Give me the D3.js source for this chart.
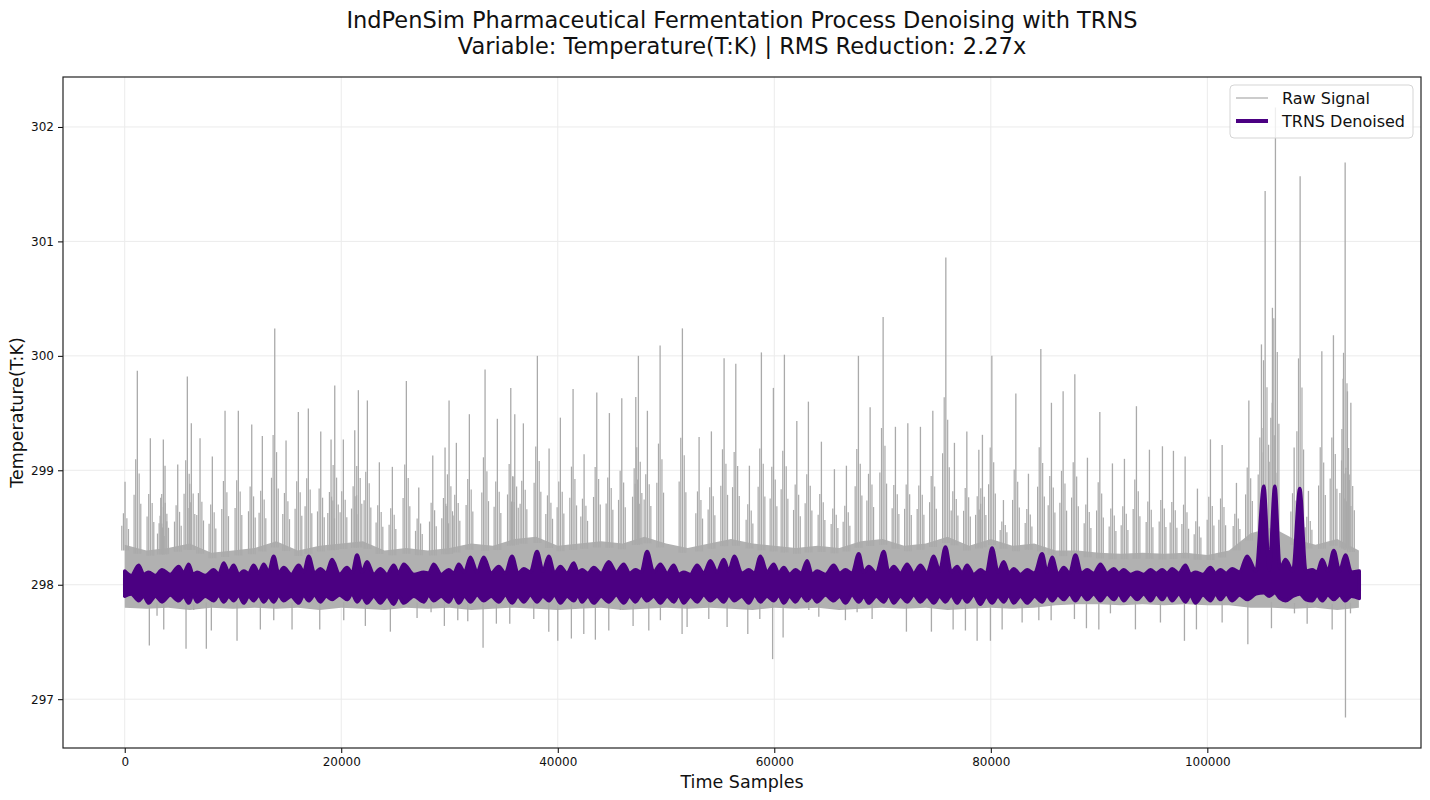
<!DOCTYPE html>
<html>
<head>
<meta charset="utf-8">
<script src="https://cdn.jsdelivr.net/npm/d3@7/dist/d3.min.js"></script>
<style>
  body { margin: 0; background: #fff; font-family: "DejaVu Sans", sans-serif; }
</style>
</head>
<body>
<div id="chart"></div>
<script>
// ---- data ----
const titleLines = [
    "IndPenSim Pharmaceutical Fermentation Process Denoising with TRNS",
    "Variable: Temperature(T:K) | RMS Reduction: 2.27x"
];
const xLabel = "Time Samples";
const yLabel = "Temperature(T:K)";
const legendLabels = ["Raw Signal", "TRNS Denoised"];
const xTicks = [0, 20000, 40000, 60000, 80000, 100000];
const yTicks = [297, 298, 299, 300, 301, 302];

// dense part of the raw signal (every 2000 samples)
const rawBandSample = d3.range(0, 114001, 2000);
const rawBandUpper = [298.35, 298.30, 298.32, 298.36, 298.28, 298.30, 298.32, 298.38, 298.30, 298.34,
    298.36, 298.38, 298.30, 298.32, 298.30, 298.32, 298.36, 298.34, 298.40, 298.42,
    298.34, 298.36, 298.38, 298.36, 298.42, 298.36, 298.32, 298.36, 298.40, 298.36,
    298.34, 298.32, 298.34, 298.32, 298.38, 298.40, 298.34, 298.36, 298.42, 298.34,
    298.40, 298.34, 298.36, 298.30, 298.30, 298.28, 298.27, 298.28, 298.27, 298.28,
    298.26, 298.30, 298.45, 298.50, 298.40, 298.35, 298.40, 298.30];
const rawBandLower = [297.80, 297.79, 297.80, 297.78, 297.80, 297.79, 297.80, 297.79, 297.80, 297.78,
    297.80, 297.79, 297.78, 297.80, 297.79, 297.80, 297.78, 297.79, 297.80, 297.79,
    297.78, 297.79, 297.80, 297.78, 297.79, 297.80, 297.79, 297.80, 297.79, 297.78,
    297.80, 297.79, 297.80, 297.78, 297.79, 297.80, 297.79, 297.80, 297.78, 297.79,
    297.80, 297.79, 297.80, 297.82, 297.83, 297.83, 297.82, 297.83, 297.82, 297.83,
    297.82, 297.82, 297.80, 297.80, 297.79, 297.80, 297.78, 297.80];

// upward spikes of the raw signal: sample index and peak value
const upSpikeSample = [28, 1164, 2365, 3326, 3566, 3723, 4896, 5783, 6152, 6956,
    8092, 9266, 10494, 11732, 12711, 13857, 14901, 16037, 16961, 18107,
    19058, 19400, 20194, 21247, 21580, 22412, 23520, 24721, 26014, 27160,
    28453, 29589, 29958, 30633, 31834, 33284, 34421, 35659, 36028, 36823,
    38116, 39197, 40241, 41414, 42431, 43604, 44768, 45913, 47207, 47447,
    48278, 49452, 51512, 53054, 54190, 55363, 56444, 57700, 58809, 59918,
    60934, 62080, 63151, 64352, 65553, 66662, 67771, 68852, 70053, 71189,
    72334, 73499, 74644, 75845, 76640, 77785, 78894, 79226, 80095, 81166,
    82312, 83476, 84621, 85600, 86680, 87761, 88925, 90070, 91234, 92343,
    93451, 94652, 95853, 96869, 97950, 99086, 100287, 101368, 102689, 103835,
    104999, 105340, 106014, 106291, 108018, 108572, 109339, 110577, 111649, 112545,
    112730, 112943, 113257];
const upSpikeValue = [298.90, 299.87, 299.28, 298.76, 299.27, 299.04, 299.05, 299.82, 299.41, 299.28,
    299.12, 299.52, 299.52, 299.40, 299.30, 300.24, 299.26, 299.51, 299.54, 299.34,
    299.27, 299.74, 299.27, 299.35, 299.70, 299.61, 299.07, 299.03, 299.78, 298.85,
    299.13, 299.20, 299.61, 299.24, 299.49, 299.88, 299.45, 299.72, 299.49, 299.41,
    300.00, 299.19, 299.46, 299.71, 299.14, 299.68, 299.50, 299.63, 299.64, 300.00,
    299.52, 300.09, 300.24, 299.29, 299.34, 299.98, 299.93, 299.04, 300.03, 299.72,
    300.01, 299.43, 299.60, 299.25, 299.01, 299.04, 300.00, 299.55, 300.34, 299.38,
    299.41, 299.38, 299.52, 300.86, 299.24, 299.34, 299.18, 299.31, 300.00, 298.74,
    299.67, 298.97, 300.06, 299.59, 299.69, 299.84, 299.11, 299.51, 299.06, 299.10,
    299.56, 299.18, 299.21, 299.17, 299.12, 298.84, 299.27, 299.22, 298.89, 299.61,
    300.10, 301.44, 300.42, 302.17, 299.20, 301.57, 298.82, 300.04, 300.18, 299.80,
    301.69, 299.69, 299.59];

// downward spikes of the raw signal
const downSpikeSample = [2273, 2984, 3603, 5663, 6374, 7538, 8000, 10374, 12527, 13765,
    15455, 18014, 20231, 22227, 24536, 27003, 28296, 29525, 30763, 31687,
    33100, 34329, 35567, 37784, 39169, 40001, 41257, 42403, 43474, 44712,
    45784, 46957, 48408, 49479, 51484, 51946, 53950, 55641, 57553, 58662,
    59845, 60815, 63188, 64112, 66570, 67650, 69036, 72205, 74514, 76519,
    77655, 78736, 79965, 81046, 82893, 84436, 85572, 87724, 88833, 89978,
    91050, 93359, 95669, 97886, 98994, 101368, 103742, 105923, 108048, 109221,
    111531, 112760, 113222];
const downSpikeValue = [297.47, 297.73, 297.61, 297.44, 297.78, 297.44, 297.60, 297.51, 297.61, 297.69,
    297.61, 297.61, 297.69, 297.64, 297.59, 297.71, 297.76, 297.64, 297.69, 297.68,
    297.45, 297.66, 297.66, 297.70, 297.59, 297.51, 297.53, 297.57, 297.52, 297.60,
    297.78, 297.64, 297.60, 297.69, 297.57, 297.63, 297.70, 297.63, 297.57, 297.70,
    297.35, 297.54, 297.78, 297.72, 297.69, 297.76, 297.70, 297.59, 297.59, 297.61,
    297.60, 297.51, 297.51, 297.61, 297.67, 297.69, 297.69, 297.70, 297.62, 297.61,
    297.75, 297.61, 297.67, 297.51, 297.61, 297.67, 297.48, 297.62, 297.75, 297.66,
    297.61, 296.84, 297.75];

// TRNS denoised signal envelope: sample, upper edge, lower edge (peaks and troughs)
const denoisedSample = [0, 600, 1290, 1750, 2214, 2830, 3446, 4200, 4985, 5450,
    5909, 6300, 6679, 7450, 8218, 8680, 9142, 9600, 10065, 10530,
    10989, 11450, 11913, 12380, 12837, 13300, 13760, 14220, 14684, 15380,
    16070, 16530, 16993, 17530, 18071, 18610, 19149, 19840, 20534, 21000,
    21458, 21920, 22382, 23000, 23613, 24230, 24845, 25300, 25769, 26700,
    27616, 28080, 28543, 29230, 29928, 30400, 30852, 31390, 31930, 32550,
    33162, 33850, 34547, 35160, 35779, 36320, 36856, 37470, 38088, 38630,
    39166, 39700, 40243, 40860, 41475, 41860, 42245, 42780, 43322, 44000,
    44708, 45400, 46093, 46630, 47171, 47710, 48249, 48860, 49480, 50100,
    50712, 51170, 51636, 52250, 52868, 53480, 54099, 54710, 55331, 55800,
    56300, 57000, 57642, 58180, 58720, 59330, 59951, 60410, 60875, 61410,
    61952, 62490, 63030, 63490, 63954, 64720, 65493, 66030, 66571, 67190,
    67802, 68260, 68726, 69420, 70112, 70570, 71035, 71650, 72267, 72880,
    73499, 74110, 74730, 75270, 75808, 76350, 76885, 77350, 77809, 78420,
    79041, 79580, 80118, 80660, 81196, 81660, 82120, 82740, 83352, 84040,
    84738, 85200, 85664, 86200, 86742, 87280, 87819, 88360, 88897, 89510,
    90128, 90740, 91360, 91820, 92284, 92900, 93515, 94130, 94747, 95290,
    95825, 96290, 96748, 97360, 97980, 98440, 98904, 99600, 100289, 100750,
    101213, 101750, 102290, 102980, 103676, 104500, 105216, 105720, 106232, 106720,
    107217, 107900, 108541, 109100, 109681, 110140, 110605, 111140, 111682, 112220,
    112760, 113300, 114035];
const denoisedUpper = [298.12, 298.08, 298.17, 298.09, 298.11, 298.08, 298.13, 298.09, 298.16, 298.10,
    298.18, 298.09, 298.11, 298.08, 298.13, 298.09, 298.19, 298.11, 298.17, 298.09,
    298.12, 298.10, 298.17, 298.10, 298.18, 298.11, 298.25, 298.10, 298.15, 298.09,
    298.17, 298.11, 298.25, 298.10, 298.14, 298.10, 298.22, 298.09, 298.15, 298.10,
    298.26, 298.11, 298.20, 298.09, 298.14, 298.09, 298.17, 298.10, 298.18, 298.09,
    298.11, 298.10, 298.18, 298.09, 298.13, 298.10, 298.18, 298.11, 298.24, 298.11,
    298.24, 298.10, 298.16, 298.10, 298.25, 298.10, 298.14, 298.11, 298.29, 298.12,
    298.25, 298.10, 298.16, 298.10, 298.19, 298.11, 298.13, 298.10, 298.15, 298.10,
    298.20, 298.11, 298.18, 298.10, 298.13, 298.11, 298.29, 298.11, 298.18, 298.10,
    298.17, 298.09, 298.11, 298.09, 298.17, 298.10, 298.21, 298.11, 298.22, 298.12,
    298.25, 298.10, 298.13, 298.10, 298.25, 298.11, 298.18, 298.10, 298.15, 298.09,
    298.13, 298.10, 298.21, 298.09, 298.12, 298.09, 298.17, 298.10, 298.13, 298.10,
    298.27, 298.11, 298.16, 298.10, 298.29, 298.11, 298.16, 298.10, 298.18, 298.10,
    298.17, 298.10, 298.25, 298.12, 298.33, 298.11, 298.16, 298.10, 298.17, 298.09,
    298.13, 298.10, 298.32, 298.11, 298.20, 298.10, 298.14, 298.09, 298.13, 298.10,
    298.27, 298.11, 298.24, 298.09, 298.15, 298.10, 298.26, 298.10, 298.13, 298.10,
    298.18, 298.10, 298.14, 298.10, 298.13, 298.09, 298.11, 298.09, 298.13, 298.10,
    298.13, 298.10, 298.14, 298.10, 298.17, 298.09, 298.11, 298.09, 298.15, 298.10,
    298.13, 298.10, 298.14, 298.11, 298.25, 298.12, 298.86, 298.13, 298.86, 298.14,
    298.22, 298.12, 298.84, 298.12, 298.13, 298.11, 298.22, 298.12, 298.30, 298.12,
    298.26, 298.11, 298.12];
const denoisedLower = [297.90, 297.92, 297.86, 297.90, 297.84, 297.90, 297.85, 297.91, 297.86, 297.90,
    297.84, 297.91, 297.85, 297.90, 297.86, 297.91, 297.85, 297.90, 297.86, 297.91,
    297.84, 297.90, 297.86, 297.91, 297.85, 297.90, 297.85, 297.91, 297.86, 297.90,
    297.84, 297.91, 297.86, 297.91, 297.85, 297.90, 297.87, 297.91, 297.87, 297.92,
    297.85, 297.90, 297.84, 297.90, 297.84, 297.90, 297.83, 297.90, 297.84, 297.90,
    297.85, 297.91, 297.86, 297.90, 297.85, 297.91, 297.84, 297.90, 297.85, 297.91,
    297.86, 297.90, 297.85, 297.91, 297.84, 297.90, 297.85, 297.91, 297.85, 297.90,
    297.86, 297.91, 297.84, 297.90, 297.86, 297.91, 297.85, 297.90, 297.84, 297.90,
    297.85, 297.91, 297.84, 297.90, 297.85, 297.91, 297.86, 297.90, 297.84, 297.90,
    297.85, 297.91, 297.84, 297.90, 297.85, 297.91, 297.86, 297.90, 297.85, 297.91,
    297.86, 297.90, 297.84, 297.91, 297.85, 297.90, 297.86, 297.91, 297.84, 297.90,
    297.85, 297.91, 297.86, 297.90, 297.85, 297.91, 297.86, 297.90, 297.84, 297.91,
    297.85, 297.90, 297.84, 297.90, 297.85, 297.91, 297.84, 297.90, 297.85, 297.91,
    297.85, 297.90, 297.84, 297.90, 297.85, 297.91, 297.84, 297.90, 297.85, 297.91,
    297.83, 297.90, 297.84, 297.90, 297.85, 297.91, 297.84, 297.90, 297.84, 297.90,
    297.85, 297.91, 297.86, 297.91, 297.87, 297.92, 297.86, 297.92, 297.87, 297.92,
    297.86, 297.92, 297.87, 297.92, 297.86, 297.92, 297.87, 297.92, 297.86, 297.92,
    297.87, 297.92, 297.86, 297.92, 297.85, 297.91, 297.84, 297.91, 297.86, 297.92,
    297.87, 297.92, 297.86, 297.91, 297.87, 297.92, 297.93, 297.90, 297.93, 297.88,
    297.86, 297.90, 297.92, 297.87, 297.86, 297.91, 297.86, 297.91, 297.87, 297.91,
    297.86, 297.90, 297.88];

// ---- build records ----
const rawBand = rawBandSample.map((s, i) => ({ s, hi: rawBandUpper[i], lo: rawBandLower[i] }));
const denoised = denoisedSample.map((s, i) => ({ s, hi: denoisedUpper[i], lo: denoisedLower[i] }));
const upSpikes = upSpikeSample.map((s, i) => ({ s, v: upSpikeValue[i] }));
const downSpikes = downSpikeSample.map((s, i) => ({ s, v: downSpikeValue[i] }));

// base of a spike: band edge at that sample
const bandAt = (s, key) => {
    const i = Math.min(rawBand.length - 2, Math.floor(s / 2000));
    const t = (s - rawBand[i].s) / 2000;
    return rawBand[i][key] * (1 - t) + rawBand[i + 1][key] * t;
};

// ---- chart ----
const margin = { top: 77, right: 9, bottom: 52, left: 63 },
    width = 1430 - margin.left - margin.right,
    height = 800 - margin.top - margin.bottom;

const svg = d3.select("#chart")
    .append("svg")
    .attr("width", 1430)
    .attr("height", 800);

const g = svg.append("g")
    .attr("transform", `translate(${margin.left},${margin.top})`);

// matplotlib-like 5% margins
const xExt = [0, d3.max(denoisedSample)];
const allY = upSpikeValue.concat(downSpikeValue, rawBandUpper, rawBandLower, denoisedUpper, denoisedLower);
const yExt = d3.extent(allY);
const xPad = (xExt[1] - xExt[0]) * 0.05, yPad = (yExt[1] - yExt[0]) * 0.05;

const x = d3.scaleLinear().domain([xExt[0] - xPad, xExt[1] + xPad]).range([0, width]);
const y = d3.scaleLinear().domain([yExt[0] - yPad, yExt[1] + yPad]).range([height, 0]);

// grid
g.append("g").selectAll("line").data(xTicks).enter().append("line")
    .attr("x1", d => x(d)).attr("x2", d => x(d))
    .attr("y1", 0).attr("y2", height)
    .attr("stroke", "#ebebeb").attr("stroke-width", 1);
g.append("g").selectAll("line").data(yTicks).enter().append("line")
    .attr("y1", d => y(d)).attr("y2", d => y(d))
    .attr("x1", 0).attr("x2", width)
    .attr("stroke", "#ebebeb").attr("stroke-width", 1);

g.append("clipPath").attr("id", "clip")
    .append("rect").attr("width", width).attr("height", height);

const plot = g.append("g").attr("clip-path", "url(#clip)");
const rawColor = "#aaaaaa";

// dense raw band
plot.append("path")
    .datum(rawBand)
    .attr("d", d3.area().x(d => x(d.s)).y0(d => y(d.lo)).y1(d => y(d.hi)))
    .attr("fill", "#b1b1b1");

// shorter strokes crowding the foot of each spike
const footShares = [[-300, 0.3], [-150, 0.5], [170, 0.42], [320, 0.25]];
plot.append("g").selectAll("g").data(upSpikes).enter().append("g")
    .each(function (d) {
        const b = bandAt(d.s, "hi");
        d3.select(this).selectAll("line").data(footShares).enter().append("line")
            .attr("x1", f => x(d.s + f[0])).attr("x2", f => x(d.s + f[0]))
            .attr("y1", y(b - 0.05))
            .attr("y2", f => y(b + (d.v - b) * f[1]))
            .attr("stroke", rawColor).attr("stroke-width", 1.2);
    });

// raw spikes
plot.append("g").selectAll("line").data(upSpikes).enter().append("line")
    .attr("x1", d => x(d.s)).attr("x2", d => x(d.s))
    .attr("y1", d => y(bandAt(d.s, "hi") - 0.05)).attr("y2", d => y(d.v))
    .attr("stroke", rawColor).attr("stroke-width", 1.3);
plot.append("g").selectAll("line").data(downSpikes).enter().append("line")
    .attr("x1", d => x(d.s)).attr("x2", d => x(d.s))
    .attr("y1", d => y(bandAt(d.s, "lo") + 0.05)).attr("y2", d => y(d.v))
    .attr("stroke", rawColor).attr("stroke-width", 1.3);

// denoised band
plot.append("path")
    .datum(denoised)
    .attr("d", d3.area().x(d => x(d.s)).y0(d => y(d.lo)).y1(d => y(d.hi)).curve(d3.curveMonotoneX))
    .attr("fill", "#4b0082")
    .attr("stroke", "#4b0082")
    .attr("stroke-width", 3.5)
    .attr("stroke-linejoin", "round");

// axes
const fmt = d3.format("d");
g.append("g")
    .attr("transform", `translate(0,${height})`)
    .call(d3.axisBottom(x).tickValues(xTicks).tickFormat(fmt).tickSize(5).tickPadding(4).tickSizeOuter(0))
    .call(a => a.selectAll("text").attr("font-size", 12).attr("font-family", "DejaVu Sans").attr("fill", "#111"));
g.append("g")
    .call(d3.axisLeft(y).tickValues(yTicks).tickFormat(fmt).tickSize(5).tickPadding(4).tickSizeOuter(0))
    .call(a => a.selectAll("text").attr("font-size", 12).attr("font-family", "DejaVu Sans").attr("fill", "#111"));
g.selectAll(".domain").remove();

// frame
g.append("rect")
    .attr("width", width).attr("height", height)
    .attr("fill", "none").attr("stroke", "#222").attr("stroke-width", 1.2);

// titles
svg.selectAll(".title").data(titleLines).enter().append("text")
    .attr("class", "title")
    .attr("x", margin.left + width / 2)
    .attr("y", (d, i) => 28 + i * 26)
    .attr("text-anchor", "middle")
    .attr("font-size", 22.5)
    .attr("fill", "#111")
    .text(d => d);

svg.append("text")
    .attr("x", margin.left + width / 2).attr("y", 788)
    .attr("text-anchor", "middle").attr("font-size", 17.5).attr("fill", "#111")
    .text(xLabel);
svg.append("text")
    .attr("transform", `translate(23,${margin.top + height / 2}) rotate(-90)`)
    .attr("text-anchor", "middle").attr("font-size", 17.5).attr("fill", "#111")
    .text(yLabel);

// legend
const leg = svg.append("g").attr("transform", "translate(1230,85)");
leg.append("rect")
    .attr("width", 183).attr("height", 53).attr("rx", 4)
    .attr("fill", "white").attr("fill-opacity", 0.8)
    .attr("stroke", "#d5d5d5");
const legStyle = [{ c: rawColor, w: 1.2 }, { c: "#4b0082", w: 4 }];
legendLabels.forEach((lab, i) => {
    leg.append("line")
        .attr("x1", 6).attr("x2", 38)
        .attr("y1", 13 + i * 23).attr("y2", 13 + i * 23)
        .attr("stroke", legStyle[i].c).attr("stroke-width", legStyle[i].w);
    leg.append("text")
        .attr("x", 52).attr("y", 18.5 + i * 23)
        .attr("font-size", 16).attr("fill", "#111")
        .text(lab);
});
</script>
</body>
</html>
